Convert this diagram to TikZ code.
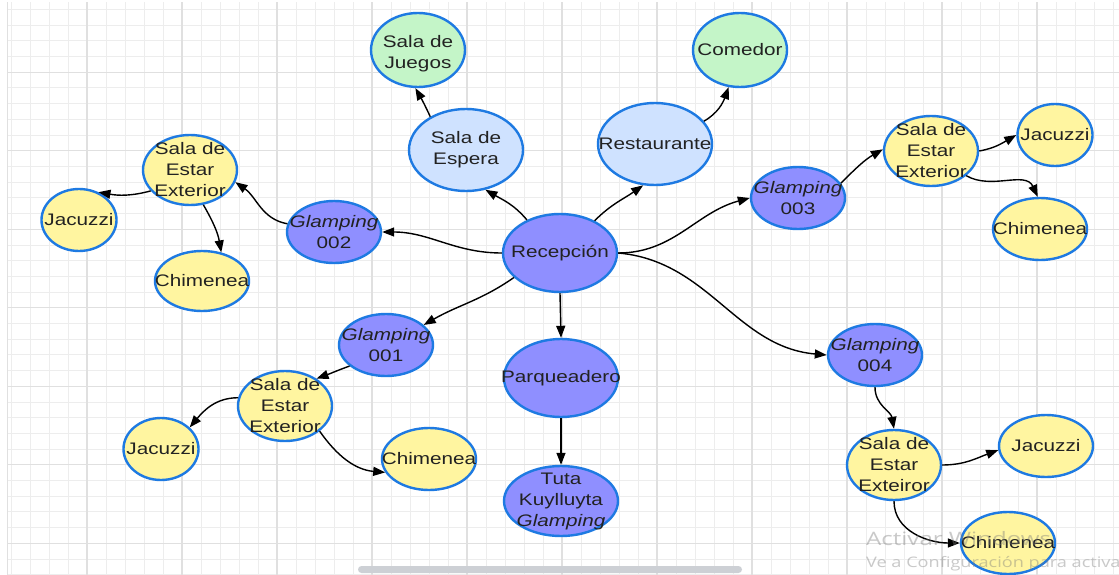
\documentclass[tikz,border=0pt]{standalone}
\usepackage{graphicx}
\usepackage{fontspec}
\setmainfont{Liberation Sans}[FakeStretch=1.24]
\newfontfamily\wmfont{Open Sans}
\usetikzlibrary{shapes.geometric,arrows.meta}
\definecolor{bord}{RGB}{30,122,226}
\definecolor{pur}{RGB}{143,143,255}
\definecolor{yel}{RGB}{255,245,160}
\definecolor{lblue}{RGB}{207,226,255}
\definecolor{lgreen}{RGB}{196,245,200}
\definecolor{txtc}{RGB}{34,34,34}
\definecolor{gminor}{RGB}{237,237,237}
\definecolor{gmajor}{RGB}{224,224,224}
\definecolor{scroll}{RGB}{205,208,213}
\definecolor{wmc}{RGB}{120,120,120}
\begin{document}
\begin{tikzpicture}[x=1pt,y=1pt,
  ell/.style={ellipse, draw=bord, line width=2.4pt, inner sep=0pt},
  sz/.style 2 args={minimum width=#1pt, minimum height=#2pt},
  fp/.style={ell, fill=pur},
  fy/.style={ell, fill=yel},
  fb/.style={ell, fill=lblue},
  fg/.style={ell, fill=lgreen},
  txt/.style={align=center, text=txtc, font=\fontsize{16.7}{21}\selectfont, inner sep=0pt},
  con/.style={draw=black, line width=1.4pt, -{Triangle[length=12pt,width=9pt]}},
  wm/.style={anchor=base west, inner sep=0pt, text=wmc, text opacity=0.4}
]
\useasboundingbox (0,-575) rectangle (1119,0);
\fill[white] (0,-575) rectangle (1119,0);
% grid
\begin{scope}
\clip (7,-575) rectangle (1119,-3);
\foreach \i in {0,...,59} { \draw[gminor, line width=1pt] ({11+19*\i},-575) -- ({11+19*\i},0); }
\foreach \j in {0,...,36} { \draw[gminor, line width=1pt] (0,{-(9.5+15.7*\j)}) -- (1119,{-(9.5+15.7*\j)}); }
\foreach \i in {0,...,11} { \draw[gmajor, line width=1.1pt] ({87+95*\i},-575) -- ({87+95*\i},0); }
\foreach \j in {0,...,6} { \draw[gmajor, line width=1.1pt] (0,{-(72.3+78.5*\j)}) -- (1119,{-(72.3+78.5*\j)}); }
\draw[gmajor, line width=1.1pt] (7.5,-575) -- (7.5,0);
\end{scope}

% nodes
\node[fp, sz={114}{78}, label={[txt]center:Recepción}] (rec) at (560,-253) {};
\node[fb, sz={114}{82}, label={[txt]center:Sala de\\Espera}] (esp) at (466,-150) {};
\node[fg, sz={94}{74}, label={[txt,yshift=-4pt]center:Sala de\\Juegos}] (jue) at (418,-50) {};
\node[fb, sz={114}{82}, label={[txt]center:Restaurante}] (res) at (655,-144) {};
\node[fg, sz={94}{74}, label={[txt]center:Comedor}] (com) at (740,-50) {};

\node[fp, sz={94}{62}, label={[txt]center:\textit{Glamping}\\002}] (g2) at (334,-232) {};
\node[fy, sz={94}{70}, label={[txt]center:Sala de\\Estar\\Exterior}] (s2) at (190,-170) {};
\node[fy, sz={75}{62}, label={[txt]center:Jacuzzi}] (j2) at (79,-220) {};
\node[fy, sz={94}{60}, label={[txt]center:Chimenea}] (c2) at (202,-281) {};

\node[fp, sz={94}{62}, label={[txt]center:\textit{Glamping}\\003}] (g3) at (798,-198) {};
\node[fy, sz={94}{70}, label={[txt]center:Sala de\\Estar\\Exterior}] (s3) at (931,-151) {};
\node[fy, sz={75}{62}, label={[txt]center:Jacuzzi}] (j3) at (1055,-135) {};
\node[fy, sz={94}{62}, label={[txt]center:Chimenea}] (c3) at (1040,-229) {};

\node[fp, sz={94}{62}, label={[txt]center:\textit{Glamping}\\001}] (g1) at (386,-345) {};
\node[fy, sz={94}{70}, label={[txt]center:Sala de\\Estar\\Exterior}] (s1) at (285,-406) {};
\node[fy, sz={75}{62}, label={[txt]center:Jacuzzi}] (j1) at (161,-449) {};
\node[fy, sz={94}{62}, label={[txt]center:Chimenea}] (c1) at (429,-459) {};

\node[fp, sz={114}{78}, label={[txt]center:Parqueadero}] (par) at (561,-378) {};
\node[fp, sz={114}{70}, label={[txt]center:Tuta\\Kuylluyta\\\textit{Glamping}}] (tuta) at (561,-501) {};

\node[fp, sz={94}{62}, label={[txt]center:\textit{Glamping}\\004}] (g4) at (875,-355) {};
\node[fy, sz={94}{70}, label={[txt]center:Sala de\\Estar\\Exteiror}] (s4) at (894,-465) {};
\node[fy, sz={94}{62}, label={[txt]center:Jacuzzi}] (j4) at (1046,-446) {};
\node[fy, sz={94}{62}, label={[txt]center:Chimenea}] (c4) at (1008,-543) {};

% connectors
\draw[con] (rec.135) to[out=130,in=-30] (esp.-64);
\draw[con] (rec.43) to[out=45,in=-145] (res.-106);
\draw[con] (esp.137) to[out=115,in=-60] (jue.-94);
\draw[con] (res.25) to[out=30,in=-110] (com.-107);
\draw[con] (rec.180) to[out=180,in=0] (g2.0);
\draw[con] (g2.170) to[out=170,in=-35] (s2.-15);
\draw[con] (s2.-152) to[out=195,in=-10] (j2.55);
\draw[con] (s2.-69) to[out=-60,in=100] (c2.56);
\draw[con] (rec.0) to[out=0,in=195] (g3.180);
\draw[con] (g3.19) to[out=45,in=-150] (s3.178);
\draw[con] (s3.0) to[out=10,in=-150] (j3.180);
\draw[con] (s3.-35) to[out=-30,in=115] (c3.94);
\draw[con] (rec.0) to[out=-5,in=175] (g4.180);
\draw[con] (g4.-90) to[out=-90,in=100] (s4.90);
\draw[con] (s4.0) to[out=0,in=200] (j4.-175);
\draw[con] (s4.-90) to[out=-90,in=180] (c4.180);
\draw[con] (rec.-152) to[out=-145,in=30] (g1.28);
\draw[con] (g1.-150) to[out=-160,in=20] (s1.41);
\draw[con] (s1.170) to[out=180,in=50] (j1.37);
\draw[con] (s1.-36) to[out=-55,in=175] (c1.197);
\draw[con] (rec.south) -- (par.north);
\draw[con] (par.south) -- (tuta.north);

% scrollbar and watermark
\fill[scroll, rounded corners=3.5pt] (358,-573) rectangle (742,-566);
\node[wm] (wm1) at (866,-545) {\wmfont\fontsize{18.5}{20}\selectfont\scalebox{1.3}[1]{Activar Windows}};
\node[wm] (wm2) at (866,-567) {\wmfont\fontsize{14.5}{16}\selectfont\scalebox{1.25}[1]{Ve a Configuración para activar}};
\end{tikzpicture}
\end{document}
